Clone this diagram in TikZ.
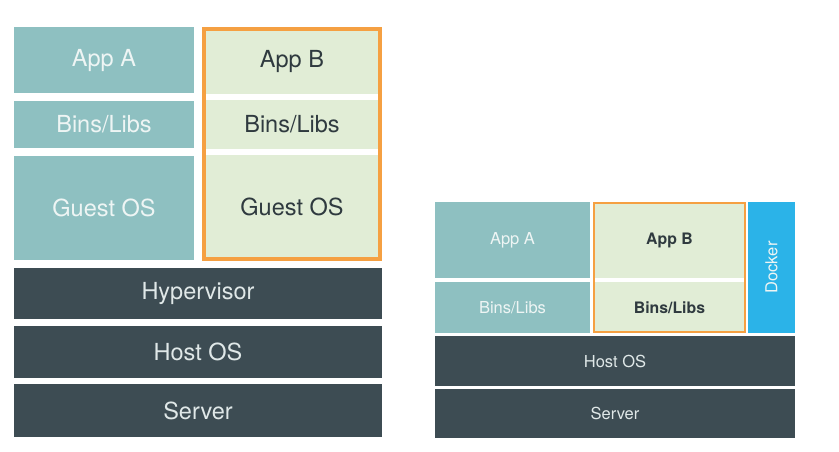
\documentclass[tikz,border=0pt]{standalone}
\usepackage{fontspec}
\setmainfont{TeX Gyre Heros}
\definecolor{tealc}{HTML}{8EC0C1}
\definecolor{darkc}{HTML}{3D4C53}
\definecolor{greenc}{HTML}{E1EDD6}
\definecolor{orangec}{HTML}{F5A042}
\definecolor{dockerc}{HTML}{2BB3E8}
\definecolor{lighttxt}{HTML}{EEF5F4}
\definecolor{darktxt}{HTML}{2F3A3F}
\definecolor{paletxt}{HTML}{E0E8E8}
\tikzset{
  blk/.style={inner sep=0pt, outer sep=0pt, draw=none},
  tealbox/.style={blk, fill=tealc, text=lighttxt},
  greenbox/.style={blk, fill=greenc, text=darktxt},
  darkbox/.style={blk, fill=darkc, text=paletxt},
  dockbox/.style={blk, fill=dockerc, text=lighttxt},
  obox/.style={blk, draw=orangec, fill=none},
  big/.style={font=\fontsize{23.5}{26}\selectfont},
  small/.style={font=\fontsize{16.5}{19}\selectfont},
  smallbold/.style={font=\fontsize{15.8}{19}\selectfont\bfseries},
}
\begin{document}
\begin{tikzpicture}[x=1pt,y=-1pt]
\useasboundingbox[fill=white] (0,0) rectangle (839,451);
% left: virtual machines
\node[tealbox,big,minimum width=180pt,minimum height=66pt] (appA) at (104,60) {App A};
\node[tealbox,big,minimum width=180pt,minimum height=47pt] (binsA) at (104,124.5) {Bins/Libs};
\node[tealbox,big,minimum width=180pt,minimum height=104pt] (guestA) at (104,208) {Guest OS};
\node[greenbox,big,minimum width=176pt,minimum height=65pt] (appB) at (292,61.5) {App B};
\node[greenbox,big,minimum width=176pt,minimum height=49pt] (binsB) at (292,124.5) {Bins/Libs};
\node[greenbox,big,minimum width=176pt,minimum height=104pt] (guestB) at (292,207) {Guest OS};
\node[obox,line width=4pt,minimum width=176pt,minimum height=230pt] (vmB) at (292,144) {};
\node[darkbox,big,minimum width=368pt,minimum height=51pt] (hyp) at (198,293.5) {Hypervisor};
\node[darkbox,big,minimum width=368pt,minimum height=52pt] (host) at (198,352) {Host OS};
\node[darkbox,big,minimum width=368pt,minimum height=53pt] (server) at (198,410.5) {Server};
% right: containers
\node[tealbox,small,minimum width=155pt,minimum height=76pt] (appA2) at (512.5,240) {App A};
\node[tealbox,small,minimum width=155pt,minimum height=51pt] (binsA2) at (512.5,307.5) {Bins/Libs};
\node[greenbox,smallbold,minimum width=151pt,minimum height=76pt] (appB2) at (669.5,240) {App B};
\node[greenbox,smallbold,minimum width=151pt,minimum height=51pt] (binsB2) at (669.5,307.5) {Bins/Libs};
\node[obox,line width=2pt,minimum width=151pt,minimum height=129pt] (ctB) at (669.5,267.5) {};
\node[dockbox,small,minimum width=47pt,minimum height=131pt] (docker) at (771.5,267.5) {};
\node[text=lighttxt,small,rotate=90,inner sep=0pt] (dockerlbl) at (docker.center) {Docker};
\node[darkbox,small,minimum width=360pt,minimum height=50pt] (host2) at (615,361) {Host OS};
\node[darkbox,small,minimum width=360pt,minimum height=49pt] (server2) at (615,413.5) {Server};
\end{tikzpicture}
\end{document}
